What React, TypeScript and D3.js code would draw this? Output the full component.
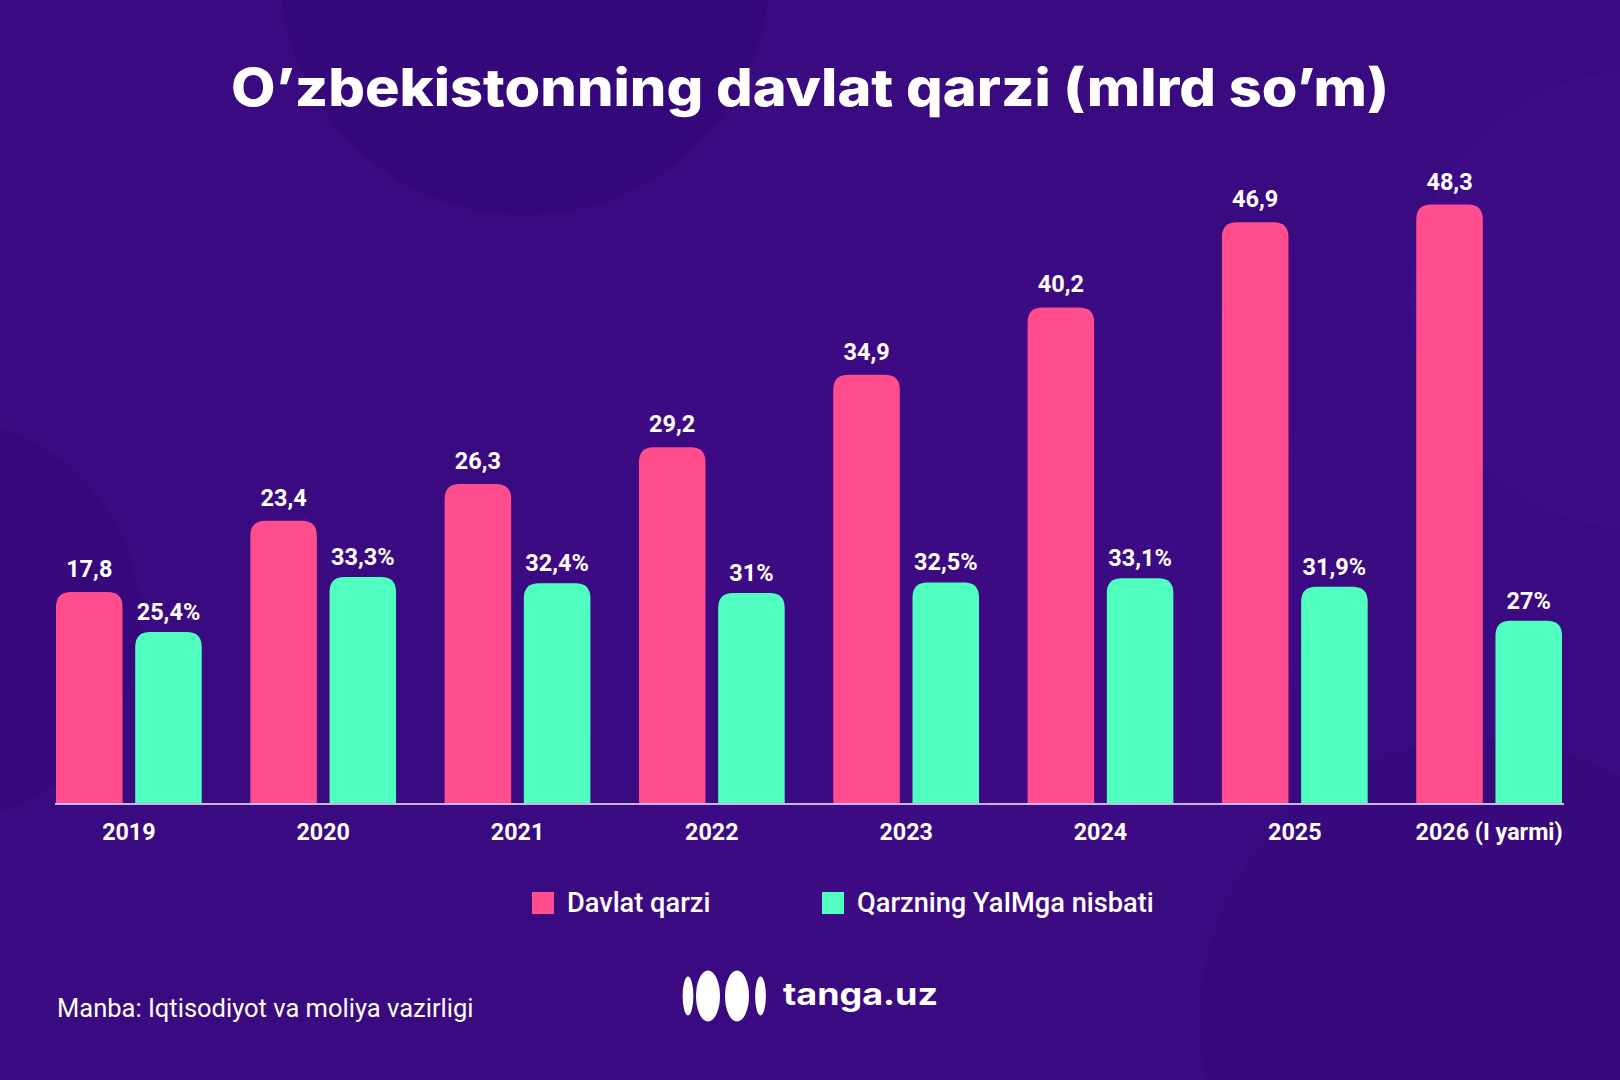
import React from "react";
import * as d3 from "d3";

const categories = ["2019", "2020", "2021", "2022", "2023", "2024", "2025", "2026 (I yarmi)"];
const debtValues = [17.8, 23.4, 26.3, 29.2, 34.9, 40.2, 46.9, 48.3];
const ratioValues = [25.4, 33.3, 32.4, 31, 32.5, 33.1, 31.9, 27];
const seriesKeys = ["debt", "ratio"];
const seriesNames = ["Davlat qarzi", "Qarzning YaIMga nisbati"];
const seriesColors = ["#FF4D8D", "#50FFC0"];

const W = 1620;
const H = 1080;

const fmt = (v: number) => String(v).replace(".", ",");

function topRoundedBar(x: number, y: number, w: number, h: number, r: number) {
  const rr = Math.min(r, w / 2, h);
  return `M${x},${y + h}V${y + rr}Q${x},${y} ${x + rr},${y}H${x + w - rr}Q${x + w},${y} ${x + w},${y + rr}V${y + h}Z`;
}

export default function App() {
  const baseY = 804;
  const x0 = d3.scaleBand<string>().domain(categories).range([56, 1562]).paddingInner(0.25).paddingOuter(0);
  const x1 = d3.scaleBand<string>().domain(seriesKeys).range([0, x0.bandwidth()]).paddingInner(0.16);
  const yDebt = d3.scaleLinear().domain([0, 50]).range([818, 183]);
  const yRatio = d3.scaleLinear().domain([0, 100]).range([809, 112]);
  const bw = x1.bandwidth();

  return (
    <svg width={W} height={H} viewBox={`0 0 ${W} ${H}`} style={{ position: "absolute", left: 0, top: 0, display: "block" }}>
      <defs>
        <clipPath id="page">
          <rect x={0} y={0} width={W} height={H} />
        </clipPath>
      </defs>
      <g clipPath="url(#page)">
        <rect x={0} y={0} width={W} height={H} fill="#3A0A80" />
        <circle cx={525} cy={-30} r={245} fill="#34077A" />
        <circle cx={930} cy={560} r={380} fill="#3C0B84" />
        <circle cx={1640} cy={300} r={230} fill="#3C0B85" />
        <circle cx={-60} cy={620} r={200} fill="#36087B" />
        <circle cx={1480} cy={1020} r={280} fill="#37097D" />
      </g>

      <text
        x={810}
        y={106}
        textAnchor="middle"
        fill="#ffffff"
        fontFamily="Inter, 'DejaVu Sans', sans-serif"
        fontWeight={800}
        fontSize={52}
        textLength={1158}
        lengthAdjust="spacingAndGlyphs"
      >
        O’zbekistonning davlat qarzi (mlrd so’m)
      </text>

      {categories.map((c, i) => {
        const gx = x0(c)!;
        const xd = gx + x1("debt")!;
        const xr = gx + x1("ratio")!;
        const yd = yDebt(debtValues[i]);
        const yr = yRatio(ratioValues[i]);
        return (
          <g key={c}>
            <path d={topRoundedBar(xd, yd, bw, baseY - 1 - yd, 15)} fill={seriesColors[0]} />
            <path d={topRoundedBar(xr, yr, bw, baseY - 1 - yr, 15)} fill={seriesColors[1]} />
            <text
              x={xd + bw / 2}
              y={yd - 15}
              textAnchor="middle"
              fill="#ffffff"
              fontFamily="Roboto, sans-serif"
              fontWeight={700}
              fontSize={23.5}
            >
              {fmt(debtValues[i])}
            </text>
            <text
              x={xr + bw / 2}
              y={yr - 12}
              textAnchor="middle"
              fill="#ffffff"
              fontFamily="Roboto, sans-serif"
              fontWeight={700}
              fontSize={23.5}
            >
              {fmt(ratioValues[i]) + "%"}
            </text>
            <text
              x={gx + x0.bandwidth() / 2}
              y={840}
              textAnchor="middle"
              fill="#ffffff"
              fontFamily="Roboto, sans-serif"
              fontWeight={700}
              fontSize={23.3}
            >
              {c}
            </text>
          </g>
        );
      })}

      <line x1={55} x2={1564} y1={baseY} y2={baseY} stroke="#C9B6E8" strokeWidth={2} />

      {seriesNames.map((n, i) => {
        const lx = i === 0 ? 532 : 822;
        return (
          <g key={n}>
            <rect x={lx} y={892} width={22} height={22} fill={seriesColors[i]} />
            <text x={lx + 35} y={912} fill="#ffffff" fontFamily="Roboto, sans-serif" fontWeight={500} fontSize={27.2}>
              {n}
            </text>
          </g>
        );
      })}

      <text x={57} y={1017} fill="#ffffff" fontFamily="Roboto, sans-serif" fontWeight={400} fontSize={25.5}>
        Manba: Iqtisodiyot va moliya vazirligi
      </text>

      <g fill="#ffffff">
        <ellipse cx={688} cy={996} rx={5.4} ry={19.5} />
        <ellipse cx={708} cy={996} rx={12} ry={25.5} />
        <ellipse cx={737} cy={996} rx={12} ry={25.5} />
        <ellipse cx={760.5} cy={996} rx={5.4} ry={19.5} />
        <text
          x={783}
          y={1005}
          fontFamily="Inter, 'DejaVu Sans', sans-serif"
          fontWeight={700}
          fontSize={31}
          textLength={155}
          lengthAdjust="spacingAndGlyphs"
        >
          tanga.uz
        </text>
      </g>
    </svg>
  );
}
